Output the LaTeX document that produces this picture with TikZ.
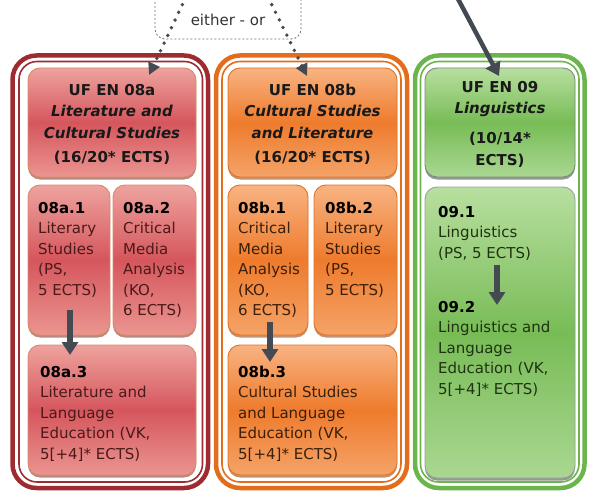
\documentclass[tikz,border=0pt]{standalone}
\usepackage{fontspec}
\setmainfont{DejaVu Sans}
\usetikzlibrary{arrows.meta,shadows,calc}
\definecolor{redframe}{HTML}{9E2B30}
\definecolor{orframe}{HTML}{E46D1C}
\definecolor{grframe}{HTML}{6CB44C}
\definecolor{redtop}{HTML}{EEA39E}
\definecolor{redmid}{HTML}{D5565D}
\definecolor{redbot}{HTML}{EB9590}
\definecolor{rededge}{HTML}{D98A6C}
\definecolor{redshadow}{HTML}{8B3A2A}
\definecolor{ortop}{HTML}{F8B382}
\definecolor{ormid}{HTML}{EE7B2C}
\definecolor{orbot}{HTML}{F5A368}
\definecolor{oredge}{HTML}{DD7428}
\definecolor{orshadow}{HTML}{9A4A10}
\definecolor{grtop}{HTML}{B8DFA0}
\definecolor{grmid}{HTML}{78BC56}
\definecolor{grbot}{HTML}{AAD792}
\definecolor{gredge}{HTML}{7C8C7E}
\definecolor{grshadow}{HTML}{4A544A}
\definecolor{arrowgray}{HTML}{434A52}
\definecolor{redtext}{HTML}{4A1A1A}
\definecolor{ortext}{HTML}{3C1F0A}
\definecolor{grtext}{HTML}{1F3312}
\begin{document}
\begin{tikzpicture}[x=1pt,y=-1pt,
  frameout/.style={line width=4.5pt, rounded corners=24pt},
  framein/.style={line width=1.6pt, rounded corners=18pt},
  box/.style={rounded corners=12pt, inner sep=0pt, outer sep=0pt, line width=0.9pt,
    drop shadow={shadow xshift=0pt, shadow yshift=-2.5pt, opacity=0.6, fill=#1}},
  redbox/.style={box=redshadow, draw=rededge, top color=redtop, bottom color=redbot, middle color=redmid},
  orbox/.style={box=orshadow, draw=oredge, top color=ortop, bottom color=orbot, middle color=ormid},
  grbox/.style={box=grshadow, draw=gredge, top color=grtop, bottom color=grbot, middle color=grmid},
  hdr/.style={font=\fontsize{15}{21.5}\selectfont\bfseries, align=center, inner sep=0pt, anchor=north, text=black!90},
  body/.style={font=\fontsize{15}{20.5}\selectfont, align=left, inner sep=0pt, anchor=north west},
  bigarrow/.style={draw=arrowgray, line width=5.5pt, -{Triangle[width=16pt,length=13pt]}},
  dotarrow/.style={draw=arrowgray, line width=3.8pt, line cap=round, dash pattern=on 0pt off 8.5pt,
    -{Triangle[width=12pt,length=12pt]}},
  dashbox/.style={draw=black!55, line width=0.8pt, dash pattern=on 2pt off 2pt, rounded corners=10pt}
]
\useasboundingbox (0,0) rectangle (589,492);

% either-or box
\draw[dashbox] (155,-12) rectangle (301,39);
\node[font=\fontsize{15}{18}\selectfont, text=black!80, anchor=base, inner sep=0pt] (eo) at (228,26) {either - or};

% frames
\draw[frameout, draw=redframe] (12.5,55.5) rectangle (208,488);
\draw[framein, draw=redframe] (19,61.5) rectangle (202.5,482);
\draw[frameout, draw=orframe] (216,55.5) rectangle (407,488);
\draw[framein, draw=orframe] (222,61.5) rectangle (401,482);
\draw[frameout, draw=grframe] (415,55.5) rectangle (584.5,488);
\draw[framein, draw=grframe] (420.5,61.5) rectangle (579,482);

% boxes
\node[redbox, minimum width=168pt, minimum height=109pt] (h1) at (112,122.5) {};
\node[redbox, minimum width=82pt, minimum height=150pt] (a1) at (69,260) {};
\node[redbox, minimum width=83pt, minimum height=150pt] (a2) at (154.5,260) {};
\node[redbox, minimum width=168pt, minimum height=130pt] (a3) at (112,410) {};
\node[orbox, minimum width=169pt, minimum height=109pt] (h2) at (312.5,122.5) {};
\node[orbox, minimum width=80pt, minimum height=150pt] (b1) at (268,260) {};
\node[orbox, minimum width=83pt, minimum height=150pt] (b2) at (355.5,260) {};
\node[orbox, minimum width=169pt, minimum height=130pt] (b3) at (312.5,410) {};
\node[grbox, minimum width=150pt, minimum height=109pt] (g1) at (500,122.5) {};
\node[grbox, draw=gredge!80, minimum width=150pt, minimum height=291pt] (g2) at (500,332.5) {};

% header texts
\node[hdr] (th1) at ([yshift=-12pt]h1.north) {\strut UF EN 08a\\ \textit{Literature and}\\ \textit{Cultural Studies}\\[3pt] (16/20* ECTS)};
\node[hdr] (th2) at ([yshift=-12pt]h2.north) {\strut UF EN 08b\\ \textit{Cultural Studies}\\ \textit{and Literature}\\[3pt] (16/20* ECTS)};
\node[hdr] (tg0) at ([yshift=-9pt]g1.north) {\strut UF EN 09\\ \textit{Linguistics}\\[8.5pt] (10/14*\\ ECTS)};

% body texts
\node[body, text=redtext] (ta1) at ([xshift=10pt,yshift=-13.65pt]a1.north west) {\strut\textcolor{black}{\textbf{08a.1}}\\ Literary\\ Studies\\ (PS,\\ 5 ECTS)};
\node[body, text=redtext] (ta2) at ([xshift=10pt,yshift=-13.65pt]a2.north west) {\strut\textcolor{black}{\textbf{08a.2}}\\ Critical\\ Media\\ Analysis\\ (KO,\\ 6 ECTS)};
\node[body, text=redtext] (ta3) at ([xshift=12pt,yshift=-17.65pt]a3.north west) {\strut\textcolor{black}{\textbf{08a.3}}\\ Literature and\\ Language\\ Education (VK,\\ 5[+4]* ECTS)};
\node[body, text=ortext] (tb1) at ([xshift=10pt,yshift=-13.65pt]b1.north west) {\strut\textcolor{black}{\textbf{08b.1}}\\ Critical\\ Media\\ Analysis\\ (KO,\\ 6 ECTS)};
\node[body, text=ortext] (tb2) at ([xshift=11pt,yshift=-13.65pt]b2.north west) {\strut\textcolor{black}{\textbf{08b.2}}\\ Literary\\ Studies\\ (PS,\\ 5 ECTS)};
\node[body, text=ortext] (tb3) at ([xshift=10pt,yshift=-17.65pt]b3.north west) {\strut\textcolor{black}{\textbf{08b.3}}\\ Cultural Studies\\ and Language\\ Education (VK,\\ 5[+4]* ECTS)};
\node[body, text=grtext] (tg1) at ([xshift=13pt,yshift=-15.65pt]g2.north west) {\strut\textcolor{black}{\textbf{09.1}}\\ Linguistics\\ (PS, 5 ECTS)};
\node[body, text=grtext] (tg2) at ([xshift=13pt,yshift=-110.65pt]g2.north west) {\strut\textcolor{black}{\textbf{09.2}}\\ Linguistics and\\ Language\\ Education (VK,\\ 5[+4]* ECTS)};

% arrows inside
\draw[bigarrow] ($(a1.south)+(1,-25)$) -- ($(a1.south |- a3.north)+(1,10)$);
\draw[bigarrow] ($(b1.south)+(2,-13)$) -- ($(b1.south |- b3.north)+(2,17)$);
\draw[bigarrow] ($(g2.north)+(-3,78)$) -- ($(g2.north)+(-3,118)$);

% incoming arrows
\coordinate (gtop) at (457,-3);
\draw[bigarrow, line width=4.5pt] (gtop) -- ($(g1.north)+(-1,8)$);
\coordinate (d1) at (186,-3);
\coordinate (d2) at (268,-3);
\draw[dotarrow] (d1) -- ($(h1.north)+(37,7)$);
\draw[dotarrow] (d2) -- ($(h2.north)+(-5.5,8)$);
\end{tikzpicture}
\end{document}
